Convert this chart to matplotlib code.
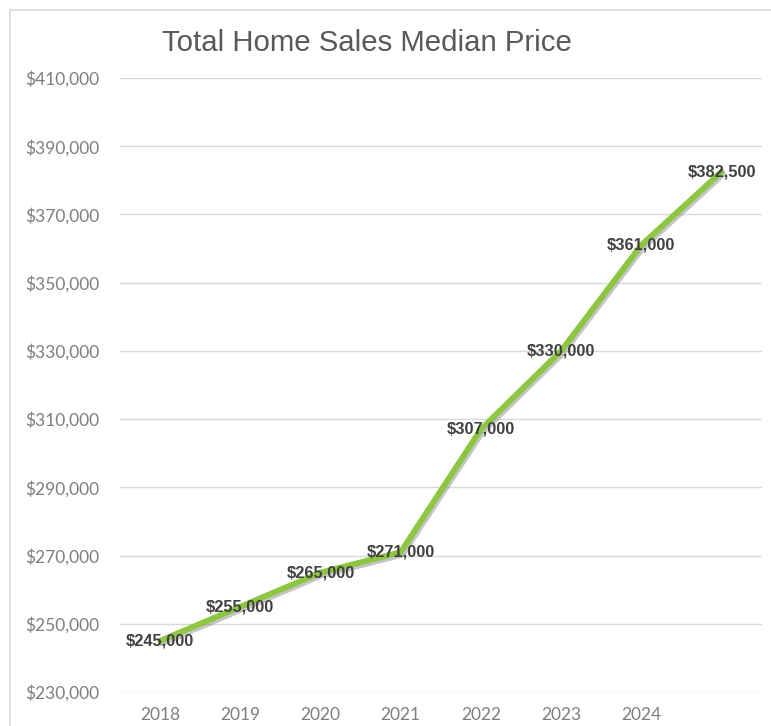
import matplotlib
matplotlib.use("Agg")
import matplotlib.pyplot as plt
import matplotlib.patheffects as pe
from matplotlib.lines import Line2D

years = ["2018", "2019", "2020", "2021", "2022", "2023", "2024", ""]
prices = [245000, 255000, 265000, 271000, 307000, 330000, 361000, 382500]
price_labels = ["$245,000", "$255,000", "$265,000", "$271,000", "$307,000",
                "$330,000", "$361,000", "$382,500"]
yticks = [230000, 250000, 270000, 290000, 310000, 330000, 350000, 370000, 390000, 410000]

fig = plt.figure(figsize=(7.71, 7.26), dpi=100)
ax = fig.add_axes([120 / 771, 34 / 726, 641.6 / 771, 614 / 726])

x = list(range(len(years)))
ax.plot(x, prices, color="#8DC641", lw=4.2, solid_capstyle="round",
        path_effects=[pe.SimpleLineShadow(offset=(1.2, -1.8), shadow_color="#808080", alpha=0.45),
                      pe.Normal()], zorder=3)

for xi, yi, lab in zip(x, prices, price_labels):
    ax.annotate(lab, (xi, yi), ha="center", va="center", fontsize=11.8,
                fontweight="bold", color="#404040", family="Liberation Sans", zorder=4)

ax.set_xlim(-0.5, len(years) - 0.5)
ax.set_ylim(230000, 410000)
ax.set_yticks(yticks)
ax.set_yticklabels([f"${v:,}" for v in yticks])
ax.set_xticks(x)
ax.set_xticklabels(years)
ax.tick_params(length=0, labelsize=12.5, labelcolor="#7f7f7f")
ax.tick_params(axis="y", pad=15)
ax.tick_params(axis="x", pad=10.5)
for lbl in ax.get_xticklabels() + ax.get_yticklabels():
    lbl.set_family("Lato")
ax.grid(axis="y", color="#d9d9d9", lw=1)
ax.set_axisbelow(True)
for s in ax.spines.values():
    s.set_visible(False)

fig.text(162 / 771, 1 - 43 / 726, "Total Home Sales Median Price", ha="left", va="center",
         fontsize=21.2, color="#595959", family="Liberation Sans")

fig.add_artist(Line2D([10 / 771, 10 / 771], [0, 1 - 10 / 726], color="#d9d9d9", lw=1.2,
                      transform=fig.transFigure))
fig.add_artist(Line2D([10 / 771, 1], [1 - 10 / 726, 1 - 10 / 726], color="#d9d9d9", lw=1.2,
                      transform=fig.transFigure))

fig.savefig("out.png", dpi=100)
